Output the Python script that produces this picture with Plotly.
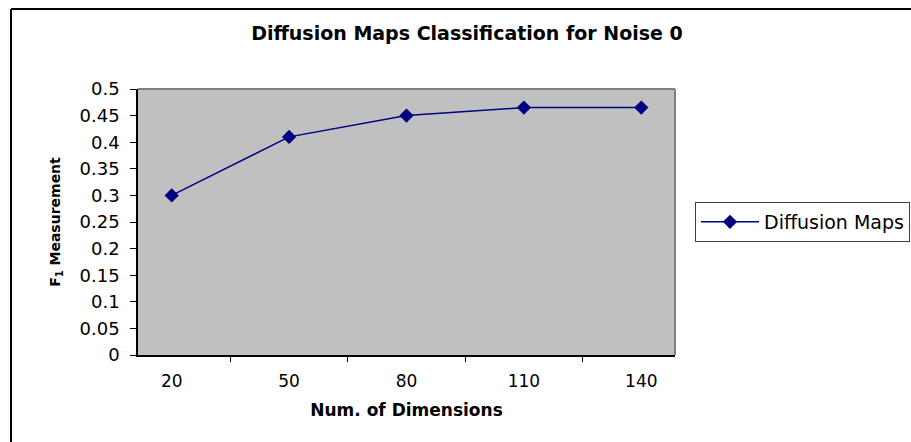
import plotly.graph_objects as go

# Data
dimensions = ["20", "50", "80", "110", "140"]
f1_scores = [0.30, 0.41, 0.45, 0.465, 0.465]
y_ticks = [0, 0.05, 0.1, 0.15, 0.2, 0.25, 0.3, 0.35, 0.4, 0.45, 0.5]

W, H = 911, 442
L, R, T, B = 138, 675, 89, 355

def px_x(x):
    return (x - L) / (R - L)

def px_y(y):
    return (B - y) / (B - T)

font_family = "DejaVu Sans, Arial, sans-serif"

fig = go.Figure()
fig.add_trace(go.Scatter(
    x=dimensions, y=f1_scores, mode="lines+markers", name="Diffusion Maps",
    line=dict(color="#000080", width=1.5),
    marker=dict(symbol="diamond", size=11, color="#000080"),
))

fig.update_layout(
    width=W, height=H,
    margin=dict(l=L, r=W - R, t=T, b=H - B, autoexpand=False),
    paper_bgcolor="white", plot_bgcolor="#C0C0C0",
    font=dict(family=font_family, size=17, color="black"),
    title=dict(text="<b>Diffusion Maps Classification for Noise 0</b>",
               x=px_x(467), xref="paper", xanchor="center",
               y=1 - 33 / H, yanchor="middle",
               font=dict(size=19, color="black")),
    xaxis=dict(
        type="category", tickson="boundaries", ticks="outside", ticklen=5,
        tickcolor="black", showline=True, linecolor="black", linewidth=1.5,
        showgrid=False, zeroline=False, ticklabelstandoff=10,
        tickfont=dict(size=17),
        title=dict(text="<b>Num. of Dimensions</b>", font=dict(size=17), standoff=14),
    ),
    yaxis=dict(
        range=[0, 0.5], tickvals=y_ticks,
        ticktext=[f"{v:g}" for v in y_ticks],
        ticks="outside", ticklen=6, tickcolor="black",
        showline=True, linecolor="black", linewidth=1.5,
        showgrid=False, zeroline=False, ticklabelstandoff=7,
        tickfont=dict(size=18),
        title=dict(text="<b>F<sub>1</sub> Measurement</b>", font=dict(size=14), standoff=16),
    ),
    showlegend=True,
    legend=dict(
        xref="container", yref="container",
        x=695 / W, y=1 - 222 / H, xanchor="left", yanchor="middle",
        bgcolor="white", bordercolor="#404040", borderwidth=1,
        font=dict(size=19), itemwidth=58,
    ),
    shapes=[
        # grey frame on top and right of the plot area
        dict(type="line", xref="paper", yref="paper", x0=0, x1=1, y0=1, y1=1,
             line=dict(color="#808080", width=2)),
        dict(type="line", xref="paper", yref="paper", x0=1, x1=1, y0=0, y1=1,
             line=dict(color="#808080", width=2)),
        # outer chart border
        dict(type="line", xref="paper", yref="paper",
             x0=px_x(11), x1=px_x(11), y0=px_y(9), y1=px_y(460),
             line=dict(color="black", width=2)),
        dict(type="line", xref="paper", yref="paper",
             x0=px_x(11), x1=px_x(930), y0=px_y(9), y1=px_y(9),
             line=dict(color="black", width=2)),
    ],
)

fig.write_html("out.html")
